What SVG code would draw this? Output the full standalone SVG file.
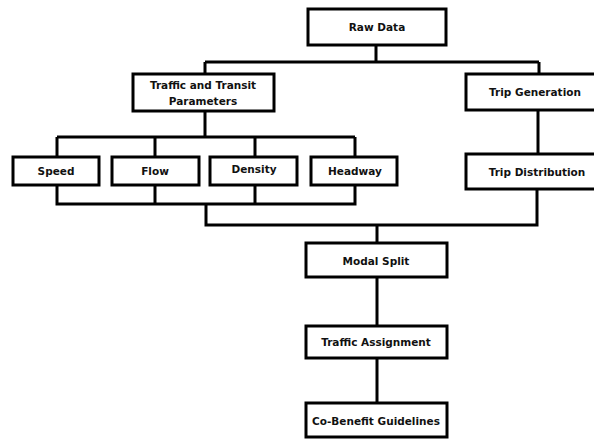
<svg xmlns="http://www.w3.org/2000/svg" width="594" height="439" viewBox="0 0 594 439">
<style>
.box{fill:#fff;stroke:#000;stroke-width:3}
.ln{fill:none;stroke:#000;stroke-width:3}
text{font-family:"DejaVu Sans",sans-serif;font-size:10.5px;font-weight:bold;fill:#111;text-anchor:middle;dominant-baseline:central}
</style>
<rect width="594" height="439" fill="#fff"/>
<g id="connectors">
<path class="ln" d="M376 45V62M205 62H539M205 62V74M539 62V74"/>
<path class="ln" d="M205 111V137M57 137H355M57 137V157M155 137V157M255 137V157M355 137V157"/>
<path class="ln" d="M538 110V154"/>
<path class="ln" d="M57 185V204H355V185M155 185V204M255 185V204M206 204V225H537V189M377 225V243"/>
<path class="ln" d="M377 277V326M377 358V403"/>
</g>
<g id="raw-data"><rect class="box" x="308" y="9" width="138" height="36"/><text x="377" y="27">Raw Data</text></g>
<g id="traffic-transit"><rect class="box" x="133" y="74" width="141" height="37"/><text x="203" y="85">Traffic and Transit</text><text x="203" y="101">Parameters</text></g>
<g id="trip-generation"><rect class="box" x="466" y="74" width="140" height="36"/><text x="535" y="92">Trip Generation</text></g>
<g id="speed"><rect class="box" x="13" y="157" width="86" height="28"/><text x="56" y="171">Speed</text></g>
<g id="flow"><rect class="box" x="112" y="157" width="87" height="28"/><text x="155" y="171">Flow</text></g>
<g id="density"><rect class="box" x="210" y="157" width="87" height="28"/><text x="254" y="169">Density</text></g>
<g id="headway"><rect class="box" x="311" y="157" width="86" height="28"/><text x="355" y="171">Headway</text></g>
<g id="trip-distribution"><rect class="box" x="466" y="154" width="140" height="35"/><text x="537" y="172">Trip Distribution</text></g>
<g id="modal-split"><rect class="box" x="306" y="243" width="141" height="34"/><text x="376" y="261">Modal Split</text></g>
<g id="traffic-assignment"><rect class="box" x="306" y="326" width="141" height="32"/><text x="376" y="342">Traffic Assignment</text></g>
<g id="co-benefit"><rect class="box" x="306" y="403" width="141" height="34"/><text x="376" y="421">Co-Benefit Guidelines</text></g>
</svg>
